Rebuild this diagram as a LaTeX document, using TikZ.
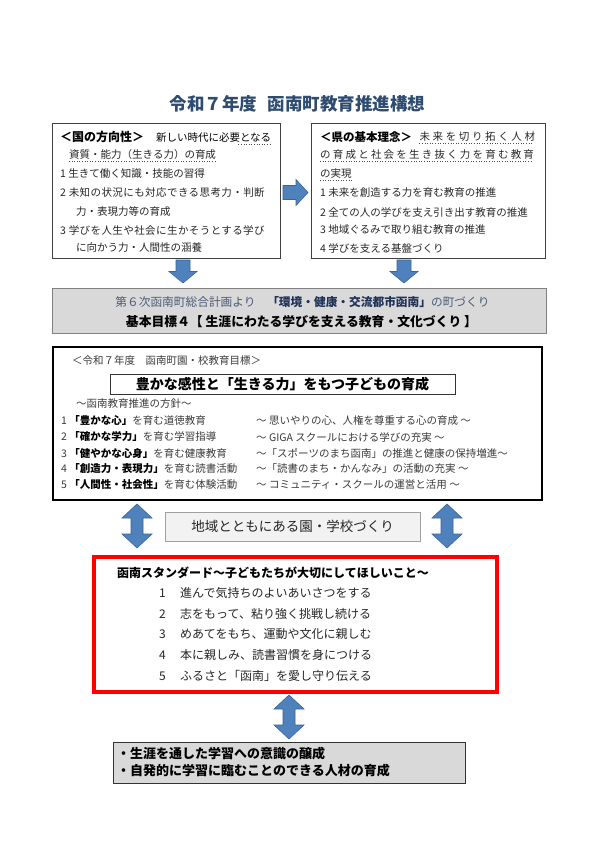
\documentclass[tikz,border=0pt]{standalone}
\usepackage{fontspec}
\setmainfont{Noto Sans CJK JP}
\usetikzlibrary{calc}
\newcommand\myls[2]{{\addfontfeature{LetterSpace=#1}#2}}
\definecolor{titleblue}{HTML}{2E4B70}
\definecolor{arrowfill}{HTML}{4F81BD}
\definecolor{arrowline}{HTML}{3B6596}
\definecolor{bandgray}{HTML}{D9D9D9}
\definecolor{bandline}{HTML}{808080}
\definecolor{bandtext}{HTML}{4A5A75}
\definecolor{bandbold}{HTML}{1F3257}
\definecolor{midfill}{HTML}{F2F2F2}
\definecolor{midline}{HTML}{A0A0A0}
\definecolor{txtgray}{HTML}{262626}
\definecolor{listgray}{HTML}{3A3A3A}
\definecolor{stdred}{HTML}{FF0000}
\tikzset{
  framebox/.style={draw=black!75, line width=0.8pt, inner sep=0pt, anchor=north west},
  txt/.style={anchor=west, inner sep=0pt, font=\fontsize{10.5}{12}\selectfont, text=txtgray},
  dotline/.style={draw=black!70, line width=0.6pt, dotted},
  blockarrow/.style={fill=arrowfill, draw=arrowline, line width=0.6pt, line join=miter},
  downarrowpic/.pic={\path[blockarrow] (-7,-11.5) -- (7,-11.5) -- (7,0) -- (14,0) -- (0,11.5) -- (-14,0) -- (-7,0) -- cycle;},
  rightarrowpic/.pic={\path[blockarrow] (-12.5,-7) -- (0.5,-7) -- (0.5,-13) -- (12.5,0) -- (0.5,13) -- (0.5,7) -- (-12.5,7) -- cycle;},
  updownpic/.pic={\path[blockarrow] (0,-22) -- (15,-8) -- (6,-8) -- (6,8) -- (15,8) -- (0,22) -- (-15,8) -- (-6,8) -- (-6,-8) -- (-15,-8) -- cycle;}
}
\begin{document}
\begin{tikzpicture}[x=1pt,y=-1pt]
\fill[white] (0,0) rectangle (596,842);
\useasboundingbox (0,0) rectangle (596,842);

% title
\node[font=\bfseries\fontsize{17.5}{20}\selectfont, text=titleblue, inner sep=0pt] (title) at (297.5,104) {令和７年度\hspace{0.6em}函南町教育推進構想};

% top-left box
\node[framebox, minimum width=228pt, minimum height=135pt] (kuni) at (52,123) {};
\node[txt, text=black] (k1) at (60,137) {\hbox to 211pt{{\bfseries\fontsize{12}{14}\selectfont ＜国の方向性＞}\hskip 5pt plus 4pt 新しい時代に必要となる}};
\draw[dotline] ($(k1.south east)+(-33,1.5)$) -- ($(k1.south east)+(0,1.5)$);
\node[txt] (k2) at (69,155) {資質・能力（生きる力）の育成};
\draw[dotline] ($(k2.south west)+(0,1.5)$) -- ($(k2.south east)+(0,1.5)$);
\node[txt] (k3) at (60,174) {1 生きて働く知識・技能の習得};
\node[txt] (k4) at (60,193) {\myls{4}{2 未知の状況にも対応できる思考力・判断}};
\node[txt] (k5) at (76,212) {力・表現力等の育成};
\node[txt] (k6) at (60,230) {\myls{4}{3 学びを人生や社会に生かそうとする学び}};
\node[txt] (k7) at (76,248) {に向かう力・人間性の涵養};

% arrow between top boxes
\pic at (295.5,192.5) {rightarrowpic};

% top-right box
\node[framebox, minimum width=234pt, minimum height=135pt] (ken) at (311,123) {};
\node[txt, text=black, font=\bfseries\fontsize{11.5}{14}\selectfont] (r1a) at (320,137) {＜県の基本理念＞};
\node[txt, anchor=west] (r1b) at ($(r1a.east)+(7,0)$) {\myls{25}{未来を切り拓く人材}};
\draw[dotline] ($(r1b.south west)+(0,1.5)$) -- ($(r1b.south east)+(-2,1.5)$);
\node[txt] (r2) at (320,155) {\myls{21}{の育成と社会を生き抜く力を育む教育}};
\draw[dotline] ($(r2.south west)+(0,1.5)$) -- ($(r2.south east)+(-2,1.5)$);
\node[txt] (r3) at (320,174) {の実現};
\draw[dotline] ($(r3.south west)+(0,1.5)$) -- ($(r3.south east)+(0,1.5)$);
\node[txt] (r4) at (320,193) {1 未来を創造する力を育む教育の推進};
\node[txt] (r5) at (320,212) {2 全ての人の学びを支え引き出す教育の推進};
\node[txt] (r6) at (320,230) {3 地域ぐるみで取り組む教育の推進};
\node[txt] (r7) at (320,248) {4 学びを支える基盤づくり};

% down arrows
\pic at (183,271.5) {downarrowpic};
\pic at (404,271.5) {downarrowpic};

% gray band
\node[framebox, draw=bandline, fill=bandgray, minimum width=494pt, minimum height=45pt] (band) at (52,288) {};
\node[inner sep=0pt, font=\fontsize{11.7}{13}\selectfont, text=bandtext] (band1) at (302.5,302) {第６次函南町総合計画より\hspace{1em}{\bfseries\color{bandbold}「環境・健康・交流都市函南」}の町づくり};
\node[inner sep=0pt, font=\bfseries\fontsize{12.8}{14}\selectfont, text=black] (band2) at (301.5,322) {基本目標４【 生涯にわたる学びを支える教育・文化づくり 】};

% main box
\node[framebox, draw=black, line width=1.8pt, minimum width=489pt, minimum height=153pt] (mainbox) at (52,346) {};
\node[txt, text=listgray] (m0) at (72,361) {＜令和７年度\hspace{1em}函南町園・校教育目標＞};
\node[draw=black!80, line width=0.7pt, minimum width=345pt, minimum height=20pt, inner sep=0pt, font=\bfseries\fontsize{14}{16}\selectfont, text=black] (goal) at (282.5,384) {豊かな感性と「生きる力」をもつ子どもの育成};
\node[txt, text=listgray] (m1) at (76,404) {～函南教育推進の方針～};
\tikzset{ltxt/.style={txt, text=listgray}}
\node[ltxt] (a1) at (61,421) {1 {\bfseries\color{black}「豊かな心」}を育む道徳教育};
\node[ltxt] (a2) at (61,437) {2 {\bfseries\color{black}「確かな学力」}を育む学習指導};
\node[ltxt] (a3) at (61,453) {3 {\bfseries\color{black}「健やかな心身」}を育む健康教育};
\node[ltxt] (a4) at (61,469) {4 {\bfseries\color{black}「創造力・表現力」}を育む読書活動};
\node[ltxt] (a5) at (61,485) {5 {\bfseries\color{black}「人間性・社会性」}を育む体験活動};
\node[ltxt] (b1) at (256,421) {～ 思いやりの心、人権を尊重する心の育成 ～};
\node[ltxt] (b2) at (256,437) {～ GIGA スクールにおける学びの充実 ～};
\node[ltxt] (b3) at (256,453) {～「スポーツのまち函南」の推進と健康の保持増進～};
\node[ltxt] (b4) at (256,469) {～「読書のまち・かんなみ」の活動の充実 ～};
\node[ltxt] (b5) at (256,485) {～ コミュニティ・スクールの運営と活用 ～};

% middle row
\pic at (137,526) {updownpic};
\pic at (447,526) {updownpic};
\node[draw=midline, fill=midfill, line width=0.8pt, minimum width=255pt, minimum height=29pt, inner sep=0pt, font=\fontsize{13.5}{15}\selectfont, text=txtgray] (mid) at (292.5,526.5) {地域とともにある園・学校づくり};

% red standard box
\node[framebox, draw=stdred, line width=4pt, minimum width=403pt, minimum height=135pt] (std) at (92,555) {};
\node[txt, font=\bfseries\fontsize{12}{14}\selectfont, text=black] (sh) at (117,573) {函南スタンダード～子どもたちが大切にしてほしいこと～};
\foreach \n/\t [count=\i from 0] in {1/進んで気持ちのよいあいさつをする, 2/志をもって、粘り強く挑戦し続ける, 3/めあてをもち、運動や文化に親しむ, 4/本に親しみ、読書習慣を身につける, 5/ふるさと「函南」を愛し守り伝える}{
  \node[txt, font=\fontsize{12}{14}\selectfont] (sn\n) at (159,{593+20.7*\i}) {\n};
  \node[txt, font=\fontsize{12}{14}\selectfont] (st\n) at (180,{593+20.7*\i}) {\t};
}

% bottom arrow and box
\pic at (289,717) {updownpic};
\node[framebox, draw=black!80, fill=bandgray, minimum width=352pt, minimum height=41pt] (goalbox) at (113,742) {};
\node[txt, font=\bfseries\fontsize{13}{15}\selectfont, text=black] (g1) at (117,754) {・生涯を通した学習への意識の醸成};
\node[txt, font=\bfseries\fontsize{13}{15}\selectfont, text=black] (g2) at (117,771) {・自発的に学習に臨むことのできる人材の育成};
\end{tikzpicture}
\end{document}
